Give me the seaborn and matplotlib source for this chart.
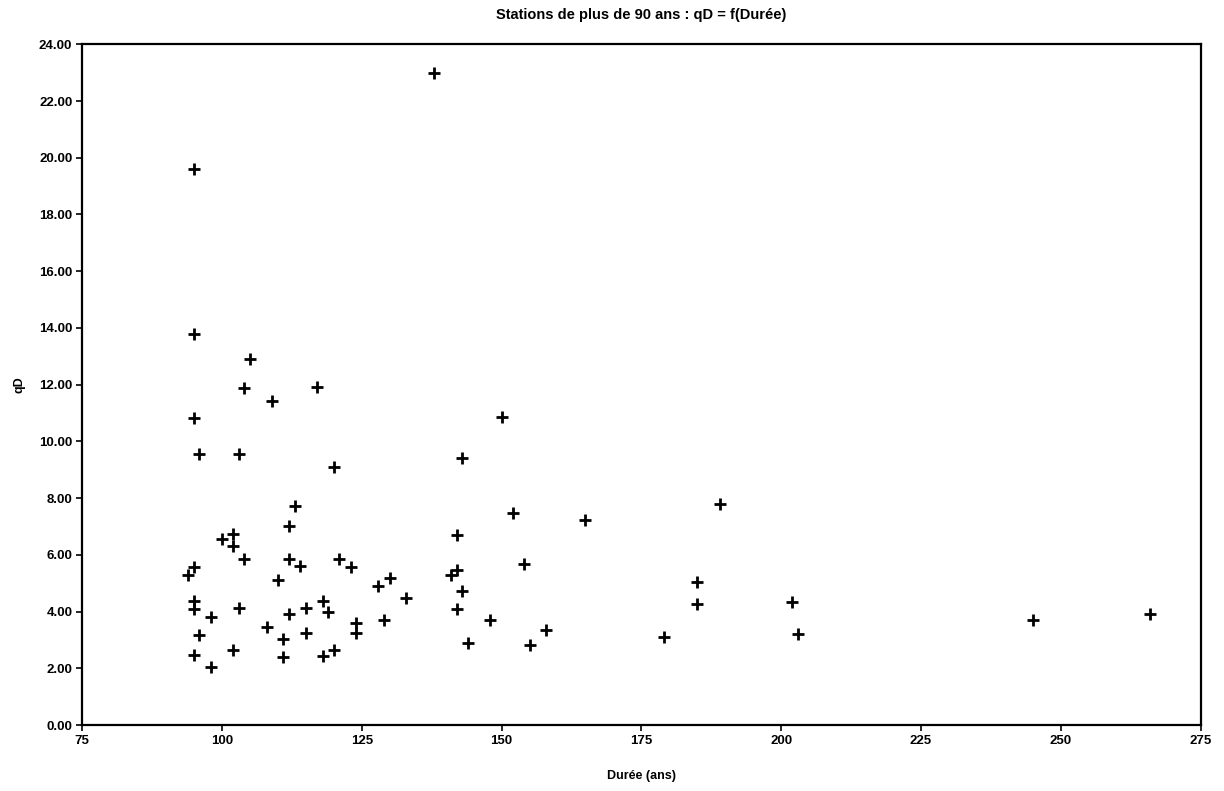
import seaborn as sns
import pandas as pd
import matplotlib.pyplot as plt
import matplotlib.ticker as ticker

# Durée (ans) / qD
duree = [95, 138, 95, 105, 104, 117, 109, 95, 96, 103, 120, 113,
         112, 100, 102, 102, 104, 112, 114, 121, 123, 95, 94, 110,
         95, 95, 98, 103, 112, 115, 118, 119, 124, 124, 108, 111,
         115, 96, 95, 102, 111, 118, 120, 98,
         150, 143, 152, 165, 142, 154, 130, 128, 142, 141, 143, 133,
         142, 129, 148, 158, 144, 155,
         189, 185, 185, 202, 179, 203, 245, 266]
qd = [19.62, 22.98, 13.78, 12.92, 11.87, 11.92, 11.41, 10.81, 9.55, 9.54, 9.10, 7.72,
      7.01, 6.57, 6.72, 6.32, 5.86, 5.84, 5.60, 5.87, 5.58, 5.58, 5.29, 5.13,
      4.38, 4.09, 3.81, 4.12, 3.90, 4.12, 4.36, 3.97, 3.58, 3.25, 3.45, 3.02,
      3.24, 3.16, 2.48, 2.65, 2.41, 2.44, 2.63, 2.04,
      10.87, 9.42, 7.49, 7.22, 6.70, 5.66, 5.19, 4.91, 5.46, 5.29, 4.72, 4.49,
      4.09, 3.70, 3.70, 3.35, 2.88, 2.81,
      7.81, 5.05, 4.26, 4.32, 3.11, 3.21, 3.72, 3.91]

df = pd.DataFrame({"duree": duree, "qd": qd})

sns.set_theme(style="white", rc={"text.color": "black", "axes.labelcolor": "black"})
plt.rcParams["font.family"] = ["Liberation Sans", "DejaVu Sans"]
plt.rcParams["font.weight"] = "bold"

fig, ax = plt.subplots(figsize=(12.24, 7.91), dpi=100)
fig.subplots_adjust(left=0.067, right=0.981, top=0.944, bottom=0.0834)

sns.scatterplot(data=df, x="duree", y="qd", marker="+", color="black",
                s=70, linewidth=2, ax=ax)

ax.set_xlim(75, 275)
ax.set_ylim(0, 24)
ax.xaxis.set_major_locator(ticker.MultipleLocator(25))
ax.yaxis.set_major_locator(ticker.MultipleLocator(2))
ax.yaxis.set_major_formatter(ticker.FormatStrFormatter("%.2f"))

for sp in ax.spines.values():
    sp.set_color("black")
    sp.set_linewidth(1.6)
ax.tick_params(axis="both", direction="out", length=4, width=1.2,
               colors="black", labelsize=9.5, pad=3, bottom=True, left=True)
for lab in ax.get_xticklabels() + ax.get_yticklabels():
    lab.set_fontweight("bold")

ax.set_title("Stations de plus de 90 ans : qD = f(Durée)", fontsize=10.5,
             fontweight="bold", color="black", pad=18)
ax.set_xlabel("Durée (ans)", fontsize=9, fontweight="bold", labelpad=17)
ax.set_ylabel("qD", fontsize=9, fontweight="bold", labelpad=10)

fig.savefig("out.png", dpi=100)
